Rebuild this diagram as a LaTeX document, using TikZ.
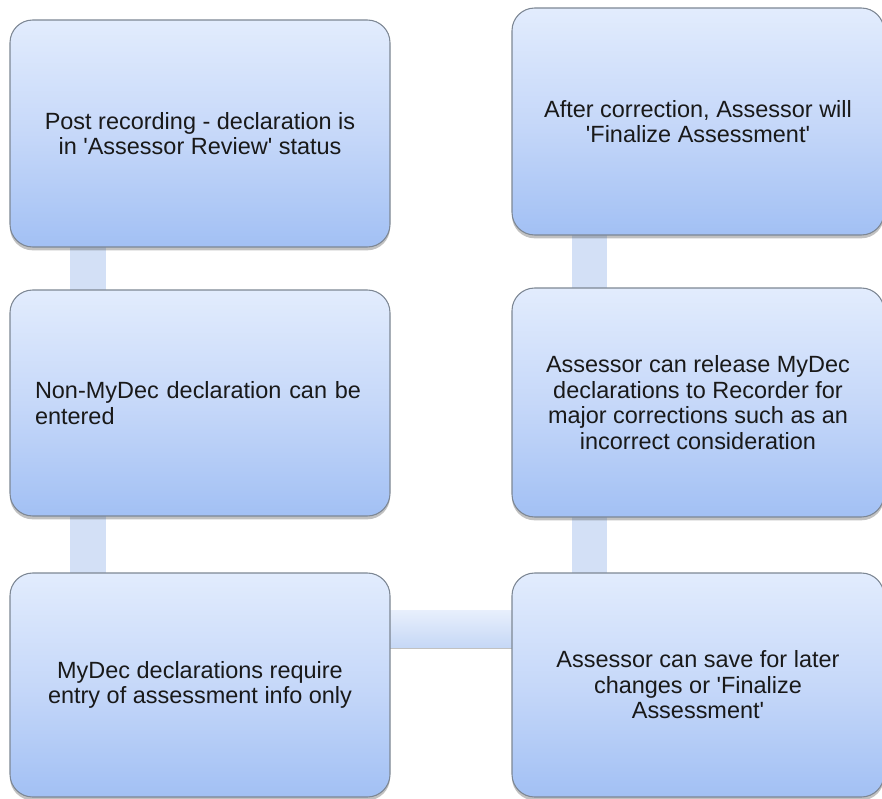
\documentclass[tikz,border=0pt]{standalone}
\usepackage{fontspec}
\setmainfont{Liberation Sans}
\usetikzlibrary{shadows,calc}
\pgfdeclarelayer{bg}
\pgfsetlayers{bg,main}
\newcommand\sq{\textquotesingle}
\definecolor{boxtop}{HTML}{E2ECFD}
\definecolor{boxmid}{HTML}{C6D8F9}
\definecolor{boxbot}{HTML}{A2C0F4}
\definecolor{boxline}{HTML}{7D8794}
\definecolor{barfill}{HTML}{D3E0F6}
\definecolor{bartop}{HTML}{E8EFFC}
\definecolor{barbot}{HTML}{C6D8F6}
\tikzset{
  flowbox/.style={draw=boxline, line width=0.8pt, rounded corners=17pt,
    top color=boxtop, bottom color=boxbot, middle color=boxmid,
    drop shadow={shadow xshift=0pt, shadow yshift=-2.5pt, opacity=0.35, fill=black!70},
    inner sep=0pt, font=\fontsize{17.6}{19.2}\selectfont, text=black!90},
  vbar/.style={draw=none, fill=barfill},
  hbar/.style={draw=none, top color=bartop, bottom color=barbot,
    drop shadow={shadow xshift=0pt, shadow yshift=-1.5pt, opacity=0.35, fill=black!70}},
}
\begin{document}
\begin{tikzpicture}[x=0.75pt, y=-0.75pt]
\useasboundingbox (0,0) rectangle (882,799);
\clip (0,0) rectangle (882,799);
% left column
\node[flowbox, minimum width=380*0.75pt, minimum height=227*0.75pt, align=center]
  (L1) at (200,133.5) {Post recording - declaration is\\in \sq Assessor Review\sq{} status};
\node[flowbox, minimum width=380*0.75pt, minimum height=226*0.75pt, text width=330*0.75pt, align=left]
  (L2) at (200,403) {Non-MyDec declaration can be\\entered};
\node[flowbox, minimum width=380*0.75pt, minimum height=224*0.75pt, align=center]
  (L3) at (200,685) {\raisebox{-9pt}{\parbox{260pt}{\centering MyDec declarations require\\entry of assessment info only}}};
% right column
\node[flowbox, minimum width=372*0.75pt, minimum height=227*0.75pt, align=center]
  (R1) at (698,121.5) {\raisebox{4pt}{\parbox{260pt}{\centering After correction, Assessor will\\\sq Finalize Assessment\sq}}};
\node[flowbox, minimum width=372*0.75pt, minimum height=229*0.75pt, align=center]
  (R2) at (698,402.5) {Assessor can release MyDec\\declarations to Recorder for\\major corrections such as an\\incorrect consideration};
\node[flowbox, minimum width=372*0.75pt, minimum height=224*0.75pt, align=center]
  (R3) at (698,685) {\raisebox{-4pt}{\parbox{260pt}{\centering Assessor can save for later\\changes or \sq Finalize\\Assessment\sq}}};
% connectors
\begin{pgfonlayer}{bg}
\path[vbar] ($(L1.south west)+(61,-5)$) rectangle ($(L2.north west)+(97,5)$);
\path[vbar] ($(L2.south west)+(61,-5)$) rectangle ($(L3.north west)+(97,5)$);
\path[vbar] ($(R1.south west)+(61,-5)$) rectangle ($(R2.north west)+(96,5)$);
\path[vbar] ($(R2.south west)+(61,-5)$) rectangle ($(R3.north west)+(96,5)$);
\path[hbar] ($(L3.east)+(-5,-75)$) rectangle ($(R3.west)+(5,-38)$);
\end{pgfonlayer}
\end{tikzpicture}
\end{document}
